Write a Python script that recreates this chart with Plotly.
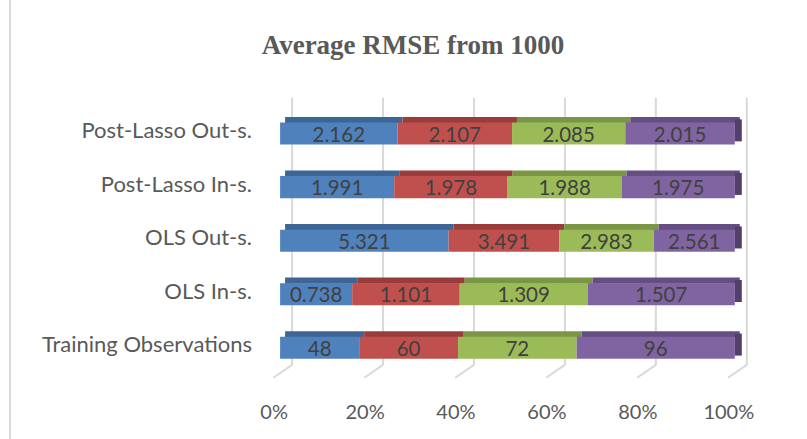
import numpy as np
import plotly.graph_objects as go

categories = ["Training Observations", "OLS In-s.", "OLS Out-s.", "Post-Lasso In-s.", "Post-Lasso Out-s."]
series_names = ["Series 1", "Series 2", "Series 3", "Series 4"]
s1 = [48, 0.738, 5.321, 1.991, 2.162]
s2 = [60, 1.101, 3.491, 1.978, 2.107]
s3 = [72, 1.309, 2.983, 1.988, 2.085]
s4 = [96, 1.507, 2.561, 1.975, 2.015]
labels1 = ["48", "0.738", "5.321", "1.991", "2.162"]
labels2 = ["60", "1.101", "3.491", "1.978", "2.107"]
labels3 = ["72", "1.309", "2.983", "1.988", "2.085"]
labels4 = ["96", "1.507", "2.561", "1.975", "2.015"]
tick_vals = [0, 20, 40, 60, 80, 100]
tick_text = ["0%", "20%", "40%", "60%", "80%", "100%"]

face_colors = ["#4F81BD", "#C0504D", "#9BBB59", "#8064A2"]
top_colors = ["#3D6596", "#9A3D3A", "#7A9644", "#644E82"]
side_color = "#533F6B"

vals = np.array([s1, s2, s3, s4], dtype=float)
labels = [labels1, labels2, labels3, labels4]
totals = vals.sum(axis=0)
pct = vals / totals * 100
bases = np.vstack([np.zeros(len(categories)), np.cumsum(pct, axis=0)[:-1]])

W = 0.411   # face thickness (category units)
T = 0.105   # top bevel thickness
DX = 1.1    # depth shift in percent

fig = go.Figure()
for i in range(4):
    # top bevel
    fig.add_trace(go.Bar(
        orientation="h", y=categories, x=pct[i], base=bases[i] + DX,
        offset=W / 2 - 0.01, width=T + 0.01, marker=dict(color=top_colors[i], line=dict(width=0)),
        hoverinfo="skip", showlegend=False))
for i in range(4):
    fig.add_trace(go.Bar(
        orientation="h", y=categories, x=pct[i], base=bases[i],
        offset=-W / 2, width=W, name=series_names[i],
        marker=dict(color=face_colors[i], line=dict(width=0)),
        text=labels[i], textposition="inside", insidetextanchor="middle",
        textangle=0, constraintext="none",
        textfont=dict(family="Lato", size=20.5, color="#404040"),
        showlegend=False))
# right side face
fig.add_trace(go.Bar(
    orientation="h", y=categories, x=[DX * 1.4] * len(categories), base=bases[3] + pct[3],
    offset=-W / 2 + 0.06, width=W, marker=dict(color=side_color, line=dict(width=0)),
    hoverinfo="skip", showlegend=False))

shapes = []
y_top, y_back, y_front = 4.67, -0.32, -0.56
back = 2.64
slant = -1.5
for t in tick_vals:
    shapes.append(dict(type="line", xref="x", yref="y", x0=t + back, x1=t + back,
                       y0=y_back, y1=y_top, line=dict(color="#D9D9D9", width=2), layer="below"))
    shapes.append(dict(type="line", xref="x", yref="y", x0=t + back, x1=t + slant,
                       y0=y_back, y1=y_front, line=dict(color="#D9D9D9", width=2), layer="below"))
# chart area left border
shapes.append(dict(type="line", xref="paper", yref="paper", x0=-0.5415, x1=-0.5415,
                   y0=-0.3, y1=1.4, line=dict(color="#D9D9D9", width=2)))

fig.update_layout(
    width=807, height=439,
    margin=dict(l=271, r=54, t=95, b=58, autoexpand=False),
    barmode="overlay",
    plot_bgcolor="white", paper_bgcolor="white",
    title=dict(text="<b>Average RMSE from 1000</b>", x=413 / 807, xref="container",
               xanchor="center", y=1 - 45 / 439, yanchor="middle", automargin=False,
               font=dict(family="Liberation Serif", size=27, color="#595959")),
    xaxis=dict(range=[-2, 104], tickvals=tick_vals, ticktext=tick_text, showgrid=False,
               zeroline=False, showline=False, ticks="", ticklabelshift=-6,
               ticklabelstandoff=17, automargin=False,
               tickfont=dict(family="Lato", size=20, color="#595959")),
    yaxis=dict(range=[-0.62, 4.72], showgrid=False, zeroline=False, showline=False,
               ticks="", ticklabelstandoff=18, ticklabelshift=-3, automargin=False,
               tickfont=dict(family="Lato", size=22, color="#595959")),
    shapes=shapes,
    showlegend=False,
)
fig.write_html("out.html", config={"displayModeBar": False},
               post_script="document.body.style.margin='0';document.body.style.overflow='hidden';")
